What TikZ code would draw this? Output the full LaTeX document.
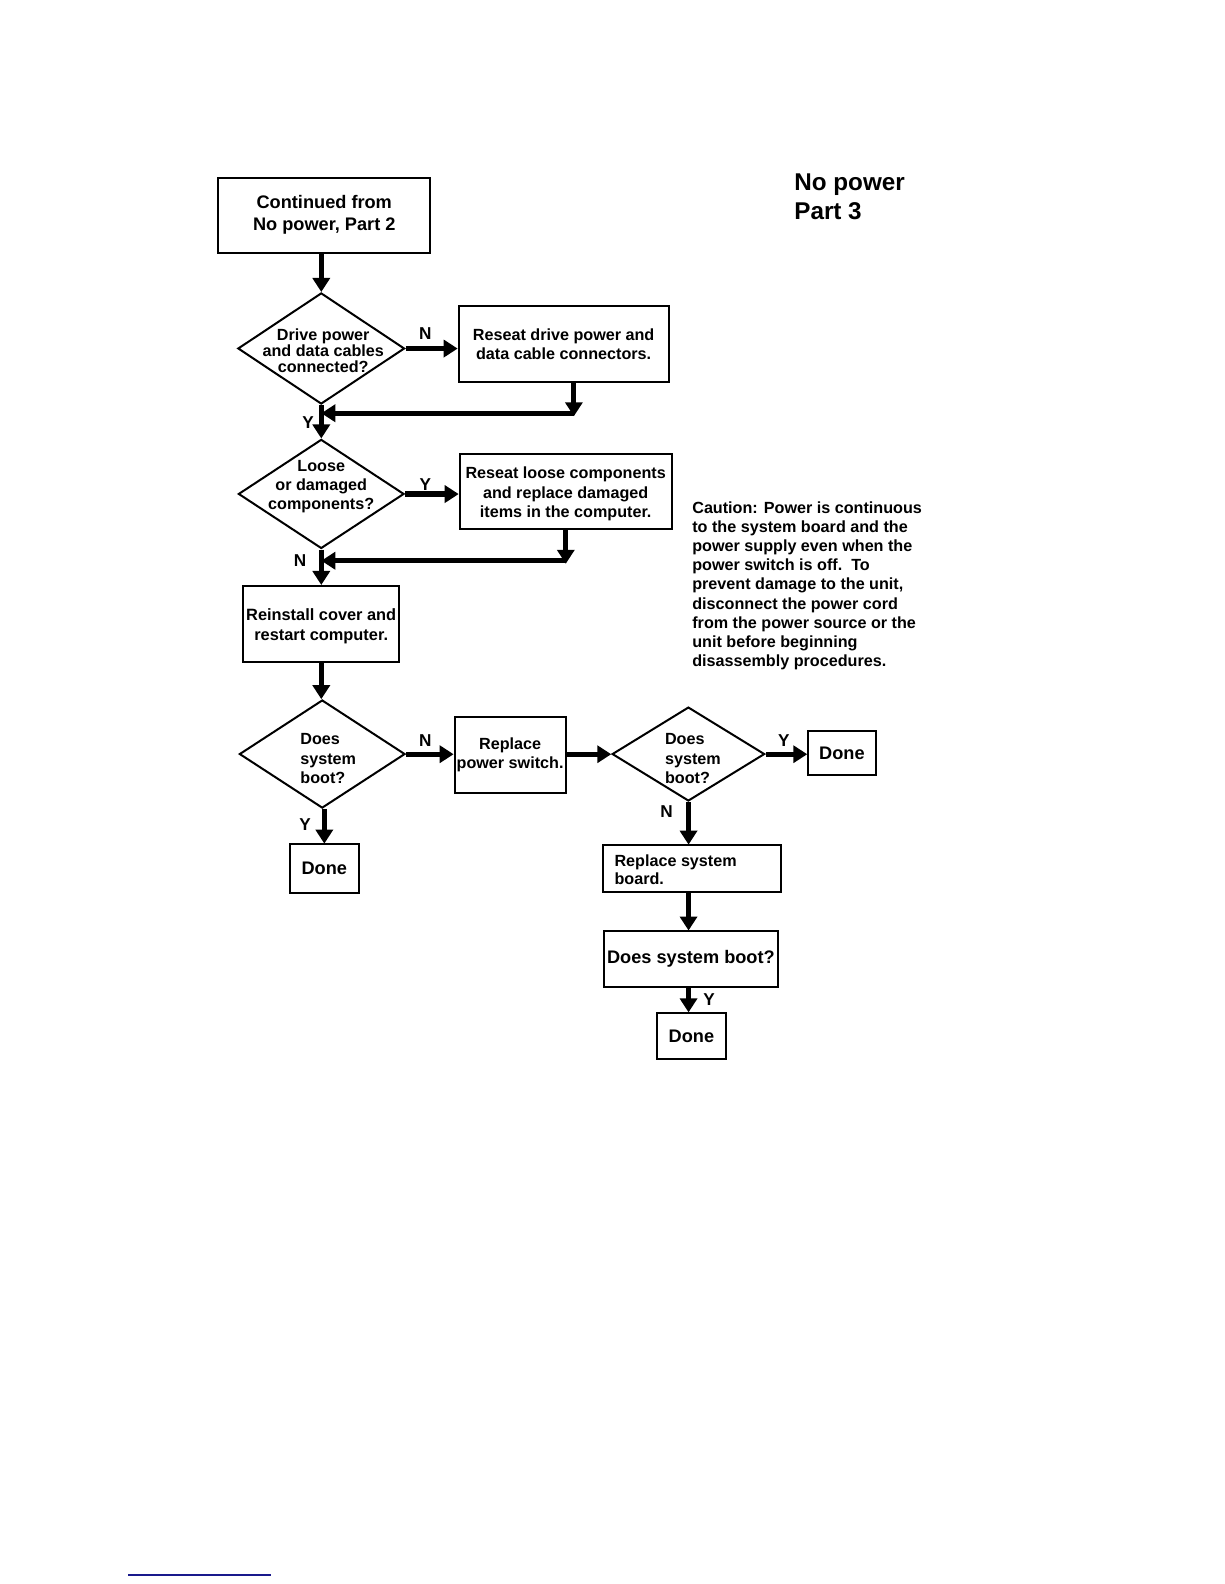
\documentclass[tikz,border=0pt]{standalone}
\usepackage{fontspec}
\setmainfont{Liberation Sans}
\usetikzlibrary{arrows.meta,shapes.geometric}
\definecolor{linkblue}{RGB}{25,25,140}
\begin{document}
\begin{tikzpicture}[x=0.5pt,y=-0.5pt,scale=1.0101,transform shape,
  box/.style={draw,line width=1pt,inner sep=0pt,align=center,font=\bfseries\fontsize{8}{9.5}\selectfont},
  dia/.style={draw,diamond,line width=1pt,inner sep=0pt,shape aspect=1},
  dtext/.style={inner sep=0pt,font=\bfseries\fontsize{8}{9.5}\selectfont},
  lbl/.style={inner sep=0pt,font=\bfseries\fontsize{8.5}{10}\selectfont},
  arr/.style={line width=2.6pt,-{Triangle[length=7pt,width=8.5pt]}},
  ln/.style={line width=2.6pt}]
\path[use as bounding box,fill=white] (0,0) rectangle (1211.88,1568.16);

% title
\node[anchor=north west,inner sep=0pt,align=left,font=\bfseries\fontsize{12}{14}\selectfont] (title) at (786,172) {No power\\Part 3};

% boxes
\node[box,minimum width=105pt,minimum height=37pt,font=\bfseries\fontsize{9}{11}\selectfont] (b1) at (321,213) {Continued from\\No power, Part 2};
\node[box,minimum width=104pt,minimum height=37.5pt] (b2) at (558,340.5) {Reseat drive power and\\data cable connectors.};
\node[box,minimum width=105pt,minimum height=37.5pt] (b3) at (560,486.5) {};
\node[dtext,align=center,font=\bfseries\fontsize{8}{9.7}\selectfont] (b3t) at (560,489) {Reseat loose components\\and replace damaged\\items in the computer.};
\node[box,minimum width=77pt,minimum height=37.5pt] (b4) at (318,617.5) {};
\node[dtext,align=center,font=\bfseries\fontsize{8.1}{9.5}\selectfont] (b4t) at (318,620) {Reinstall cover and\\restart computer.};
\node[box,minimum width=55pt,minimum height=37.5pt] (b5) at (505,747.5) {Replace\\power switch.};
\node[box,minimum width=33.5pt,minimum height=21.5pt,font=\bfseries\fontsize{9}{11}\selectfont] (doneR) at (833.5,745.5) {Done};
\node[box,minimum width=34pt,minimum height=24pt,font=\bfseries\fontsize{9}{11}\selectfont] (doneL) at (321,860) {Done};
\node[box,minimum width=88pt,minimum height=23pt] (b6) at (685,860) {};
\node[dtext,anchor=west,align=left,font=\bfseries\fontsize{8}{9}\selectfont] (b6t) at (608,861) {Replace system\\board.};
\node[box,minimum width=86pt,minimum height=27.5pt,font=\bfseries\fontsize{9}{11}\selectfont] (b7) at (684,949.5) {Does system boot?};
\node[box,minimum width=34.5pt,minimum height=22.5pt,font=\bfseries\fontsize{9}{11}\selectfont] (doneB) at (684.5,1025.5) {Done};

% diamonds
\node[dia,minimum width=82.5pt,minimum height=55pt] (d1) at (318,345) {};
\node[dtext,align=center,font=\bfseries\fontsize{8}{8}\selectfont] (d1t) at (320,347) {Drive power\\and data cables\\connected?};
\node[dia,minimum width=82pt,minimum height=54pt] (d2) at (318,489) {};
\node[dtext,align=center] (d2t) at (318,482) {Loose\\or damaged\\components?};
\node[dia,minimum width=82pt,minimum height=53.5pt] (d3) at (319,746.5) {};
\node[dtext,anchor=west,align=left] (d3t) at (297,751) {Does\\system\\boot?};
\node[dia,minimum width=75.5pt,minimum height=46.5pt] (d4) at (681.5,746.5) {};
\node[dtext,anchor=west,align=left] (d4t) at (658,751) {Does\\system\\boot?};

% caution text
\node[anchor=north west,inner sep=0pt,align=left,font=\bfseries\fontsize{8}{9.5}\selectfont] (caution) at (685,496) {Caution: Power is continuous\\to the system board and the\\power supply even when the\\power switch is off.\ \ To\\prevent damage to the unit,\\disconnect the power cord\\from the power source or the\\unit before beginning\\disassembly procedures.};

% junction coordinates
\coordinate (m1) at (568,409);
\coordinate (j1) at (318,409);
\coordinate (m2) at (560,555);
\coordinate (j2) at (318,555);

% connectors
\draw[arr] (b1.south -| d1.north) -- (d1.north);
\draw[arr] (d1.east) -- (d1.east -| b2.west);
\draw[arr] (b2.south -| m1) -- ([yshift=-1.5pt]m1);
\draw[arr] (m1) -- (j1);
\draw[arr] (d1.south) -- (d2.north);
\draw[arr] (d2.east) -- (d2.east -| b3.west);
\draw[arr] (b3.south -| m2) -- ([yshift=-1.5pt]m2);
\draw[arr] (m2) -- (j2);
\draw[arr] (d2.south) -- (b4.north);
\draw[arr] (b4.south) -- (b4.south |- d3.north);
\draw[arr] (d3.east) -- (d3.east -| b5.west);
\draw[arr] (b5.east |- d4.west) -- (d4.west);
\draw[arr] (d4.east) -- (d4.east -| doneR.west);
\draw[arr] (d3.south -| doneL.north) -- (doneL.north);
\draw[arr] (d4.south) -- (d4.south |- b6.north);
\draw[arr] (b6.south -| d4.south) -- (d4.south |- b7.north);
\draw[arr] (b7.south -| d4.south) -- (d4.south |- doneB.north);

% labels
\node[lbl] (l1) at (421,330) {N};
\node[lbl] (l2) at (305,418) {Y};
\node[lbl] (l3) at (421,480) {Y};
\node[lbl] (l4) at (297,555) {N};
\node[lbl] (l5) at (421,733) {N};
\node[lbl] (l6) at (302,816) {Y};
\node[lbl] (l7) at (776,733) {Y};
\node[lbl] (l8) at (660,803) {N};
\node[lbl] (l9) at (702,990) {Y};

% footer rule
\draw[linkblue,line width=1pt] (127,1559) -- (268,1559);
\end{tikzpicture}
\end{document}
